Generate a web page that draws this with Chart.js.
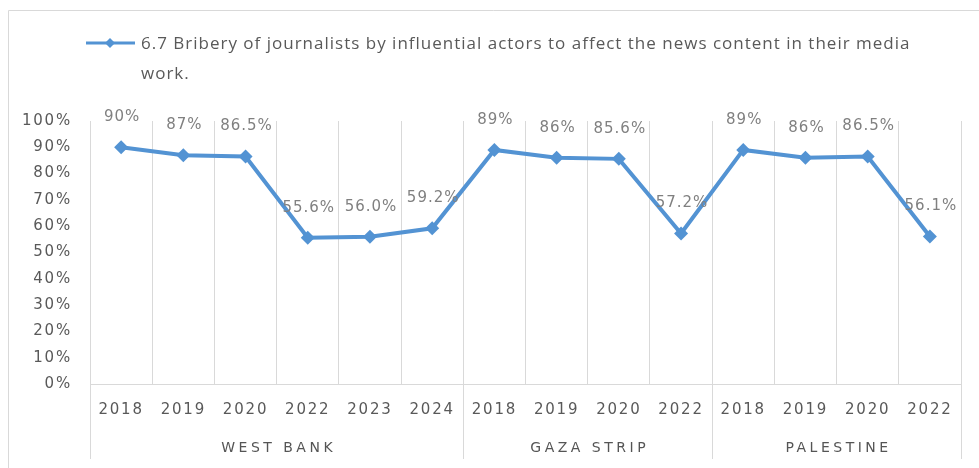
<!DOCTYPE html>
<html>
<head>
<meta charset="utf-8">
<script src="https://cdn.jsdelivr.net/npm/chart.js@4.4.1/dist/chart.umd.min.js"></script>
<style>
    html, body { margin: 0; padding: 0; background: #fff; }
    #wrap { position: relative; width: 979px; height: 468px; }
</style>
</head>
<body>
<div id="wrap"><canvas id="bribeChart" width="979" height="468"></canvas></div>
<script>
// ===== Data =====
const years = ['2018', '2019', '2020', '2022', '2023', '2024', '2018', '2019', '2020', '2022', '2018', '2019', '2020', '2022'];
const regions = ['WEST BANK', 'GAZA STRIP', 'PALESTINE'];
const regionSizes = [6, 4, 4];
const values = [90, 87, 86.5, 55.6, 56.0, 59.2, 89, 86, 85.6, 57.2, 89, 86, 86.5, 56.1];
const valueLabels = ['90%', '87%', '86.5%', '55.6%', '56.0%', '59.2%', '89%', '86%', '85.6%', '57.2%', '89%', '86%', '86.5%', '56.1%'];
const seriesName = '6.7 Bribery of journalists by influential actors to affect the news content in their media work.';

const LINE_BLUE = '#5393d3';
const GRID = '#d9d9d9';
const TEXT = '#595959';
const LABEL = '#808080';

// ===== Plugin: frame, legend, value labels, region labels =====
const decorPlugin = {
    id: 'decor',
    beforeDraw(chart) {
        const ctx = chart.ctx;
        ctx.save();
        ctx.strokeStyle = GRID;
        ctx.lineWidth = 1;
        ctx.beginPath();
        ctx.moveTo(8.5, 468);
        ctx.lineTo(8.5, 10.5);
        ctx.lineTo(979, 10.5);
        ctx.stroke();
        ctx.restore();
        // tick text spacing
        ctx.letterSpacing = '1.8px';
    },
    afterDraw(chart) {
        const ctx = chart.ctx;
        const x = chart.scales.x;
        const area = chart.chartArea;
        const half = (x.getPixelForValue(1) - x.getPixelForValue(0)) / 2;

        // region separators and names
        ctx.save();
        ctx.letterSpacing = '0px';
        ctx.strokeStyle = GRID;
        ctx.lineWidth = 1;
        let start = 0;
        const bounds = [0];
        regionSizes.forEach(n => { start += n; bounds.push(start); });
        bounds.forEach(b => {
            const px = Math.round(x.getPixelForValue(b) - half) + 0.5;
            ctx.beginPath();
            ctx.moveTo(px, area.bottom);
            ctx.lineTo(px, 459);
            ctx.stroke();
        });
        ctx.fillStyle = '#555';
        ctx.font = '14px "DejaVu Sans"';
        ctx.letterSpacing = '3.5px';
        ctx.textAlign = 'center';
        ctx.textBaseline = 'middle';
        regions.forEach((r, i) => {
            const a = x.getPixelForValue(bounds[i]) - half;
            const b = x.getPixelForValue(bounds[i + 1]) - half;
            ctx.fillText(r, (a + b) / 2 + 2, 448);
        });
        ctx.restore();

        // value labels
        ctx.save();
        ctx.font = '15px "DejaVu Sans"';
        ctx.letterSpacing = '1px';
        ctx.fillStyle = LABEL;
        ctx.textAlign = 'center';
        ctx.textBaseline = 'middle';
        const meta = chart.getDatasetMeta(0);
        meta.data.forEach((pt, i) => {
            ctx.fillText(valueLabels[i], pt.x + 1, pt.y - 30);
        });
        ctx.restore();

        // legend
        ctx.save();
        ctx.strokeStyle = LINE_BLUE;
        ctx.fillStyle = LINE_BLUE;
        ctx.lineWidth = 3;
        ctx.beginPath();
        ctx.moveTo(86, 43);
        ctx.lineTo(135, 43);
        ctx.stroke();
        ctx.beginPath();
        ctx.moveTo(110, 38);
        ctx.lineTo(115, 43);
        ctx.lineTo(110, 48);
        ctx.lineTo(105, 43);
        ctx.closePath();
        ctx.fill();
        ctx.font = '17px "Open Sans"';
        ctx.letterSpacing = '1px';
        ctx.fillStyle = TEXT;
        ctx.textAlign = 'left';
        ctx.textBaseline = 'middle';
        const words = seriesName.split(' ');
        const lines = [];
        let cur = '';
        words.forEach(w => {
            const test = cur ? cur + ' ' + w : w;
            if (ctx.measureText(test).width > 800 && cur) { lines.push(cur); cur = w; }
            else cur = test;
        });
        if (cur) lines.push(cur);
        lines.forEach((l, i) => ctx.fillText(l, 141, 44 + i * 30));
        ctx.restore();
    }
};

const ctx = document.getElementById('bribeChart').getContext('2d');
new Chart(ctx, {
    type: 'line',
    data: {
        labels: years,
        datasets: [{
            label: seriesName,
            data: values,
            borderColor: LINE_BLUE,
            backgroundColor: LINE_BLUE,
            borderWidth: 4,
            pointStyle: 'rectRot',
            pointRadius: 7,
            pointBorderWidth: 0,
            tension: 0
        }]
    },
    options: {
        responsive: false,
        animation: false,
        devicePixelRatio: 1,
        layout: { padding: { left: 0, right: 18, top: 121, bottom: 0 } },
        plugins: {
            legend: { display: false },
            tooltip: { enabled: false }
        },
        scales: {
            x: {
                offset: true,
                grid: { offset: true, color: GRID, drawTicks: false },
                border: { color: GRID },
                ticks: { color: TEXT, font: { family: 'DejaVu Sans', size: 15 }, padding: 17, maxRotation: 0, autoSkip: false },
                afterFit(scale) { scale.height = 84; }
            },
            y: {
                min: 0,
                max: 100,
                grid: { display: false },
                border: { display: false },
                ticks: {
                    stepSize: 10,
                    color: TEXT,
                    font: { family: 'DejaVu Sans', size: 15 },
                    padding: 10,
                    callback: v => v + '%'
                },
                afterFit(scale) { scale.width = 90; }
            }
        }
    },
    plugins: [decorPlugin]
});
</script>
</body>
</html>
